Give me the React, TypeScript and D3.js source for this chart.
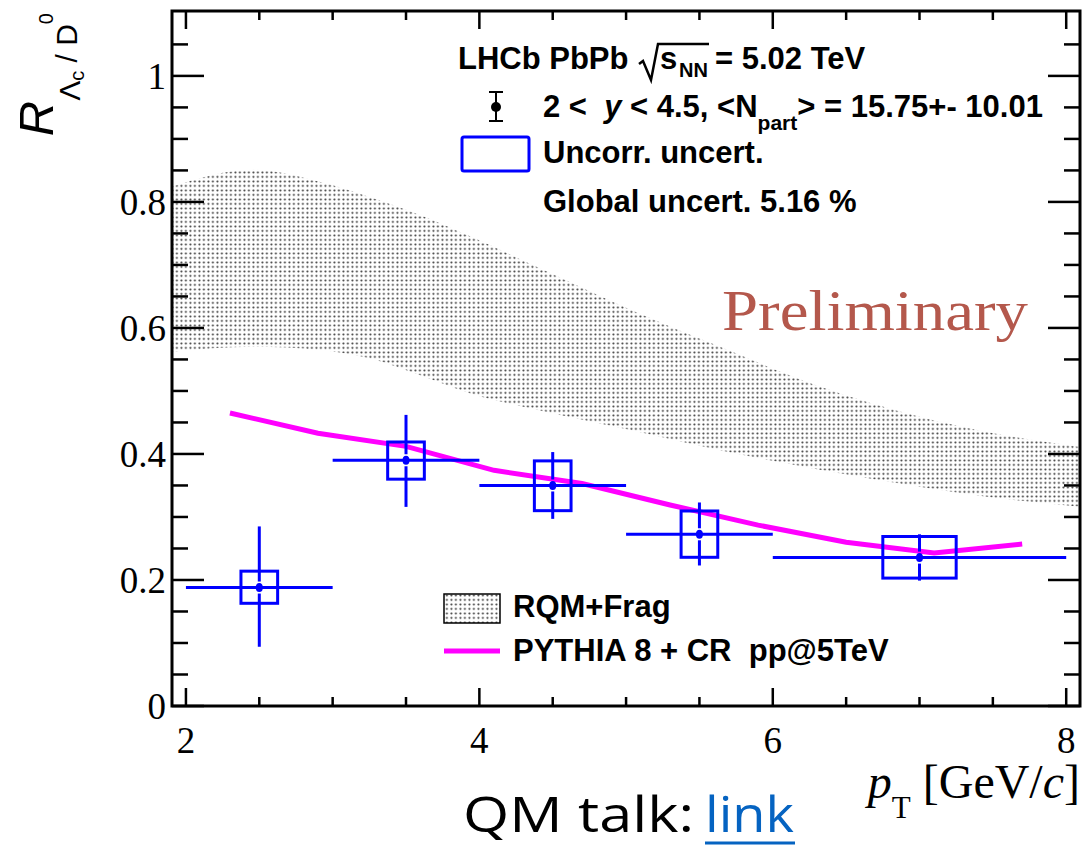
import React from 'react';
import * as d3 from 'd3';

// LHCb PbPb Lambda_c / D0 ratio vs pT
const ptCenter = [2.5, 3.5, 4.5, 5.5, 7.0];
const ptLow = [2, 3, 4, 5, 6];
const ptHigh = [3, 4, 5, 6, 8];
const ratio = [0.188, 0.39, 0.35, 0.2725, 0.2355];
const statLow = [0.094, 0.316, 0.297, 0.223, 0.199];
const statHigh = [0.285, 0.462, 0.403, 0.323, 0.2725];
const systLow = [0.163, 0.36, 0.31, 0.236, 0.203];
const systHigh = [0.214, 0.419, 0.389, 0.3095, 0.269];

// RQM+Frag band
const bandPt = [1.9, 2.46, 2.91, 3.25, 3.62, 3.94, 4.39, 5.03, 5.64, 6.32, 7.0, 7.46, 8.1];
const bandHigh = [0.824, 0.851, 0.832, 0.808, 0.777, 0.745, 0.697, 0.629, 0.57, 0.507, 0.459, 0.435, 0.411];
const bandLow = [0.562, 0.57, 0.565, 0.552, 0.523, 0.496, 0.47, 0.438, 0.406, 0.375, 0.348, 0.332, 0.316];

// PYTHIA 8 + CR
const pythiaPt = [2.3, 2.9, 3.5, 4.1, 4.7, 5.3, 5.9, 6.5, 7.1, 7.7];
const pythiaVal = [0.465, 0.433, 0.412, 0.374, 0.353, 0.319, 0.287, 0.26, 0.243, 0.257];

const xMajor = [2, 4, 6, 8];
const yMajor = [0, 0.2, 0.4, 0.6, 0.8, 1];
const yLabels = ['0', '0.2', '0.4', '0.6', '0.8', '1'];

const left = 172, right = 1080, top = 11, bottom = 706;
const BLUE = '#0000ff';
const MAGENTA = '#ff00ff';
const sans = '"Liberation Sans", Arial, sans-serif';
const serif = '"Liberation Serif", "Times New Roman", serif';

export default function App() {
  const x = d3.scaleLinear().domain([1.905, 8.094]).range([left, right]);
  const y = d3.scaleLinear().domain([0, 1.103]).range([bottom, top]);

  const xMinor = d3.range(2, 8.01, 0.5).filter(v => !xMajor.includes(v));
  const yMinor = d3.range(0.05, 1.1, 0.05).filter(v => Math.abs(v * 5 - Math.round(v * 5)) > 1e-6);

  const band = d3.area<number>()
    .x(d => x(bandPt[d]))
    .y0(d => y(bandLow[d]))
    .y1(d => y(bandHigh[d]))
    .curve(d3.curveMonotoneX)(d3.range(bandPt.length));

  const pythia = d3.line<number>()
    .x(d => x(pythiaPt[d]))
    .y(d => y(pythiaVal[d]))(d3.range(pythiaPt.length));

  return (
    <svg width={1086} height={849} style={{ position: 'absolute', left: 0, top: 0, background: '#fff' }}>
      <defs>
        <pattern id="dots" width="4.5" height="4.5" patternUnits="userSpaceOnUse">
          <circle cx="1.4" cy="1.4" r="1.05" fill="#383838" />
        </pattern>
        <clipPath id="frame">
          <rect x={left} y={top} width={right - left} height={bottom - top} />
        </clipPath>
      </defs>

      {/* theory band + pythia */}
      <g clipPath="url(#frame)">
        <path d={band || ''} fill="url(#dots)" />
        <path d={pythia || ''} fill="none" stroke={MAGENTA} strokeWidth={5} />
      </g>

      {/* data points */}
      {ptCenter.map((c, i) => {
        const hw = 0.125 * (ptHigh[i] - ptLow[i]);
        const cy = y(ratio[i]);
        return (
          <g key={i}>
            <rect x={x(c - hw)} y={y(systHigh[i])} width={x(c + hw) - x(c - hw)}
              height={y(systLow[i]) - y(systHigh[i])} fill="none" stroke={BLUE} strokeWidth={3} />
            <line x1={x(ptLow[i])} x2={x(ptHigh[i])} y1={cy} y2={cy} stroke={BLUE} strokeWidth={3} />
            <line x1={x(c)} x2={x(c)} y1={y(statHigh[i])} y2={cy - 6} stroke={BLUE} strokeWidth={3} />
            <line x1={x(c)} x2={x(c)} y1={cy + 6} y2={y(statLow[i])} stroke={BLUE} strokeWidth={3} />
            <ellipse cx={x(c)} cy={cy} rx={3.5} ry={4.5} fill={BLUE} />
          </g>
        );
      })}

      {/* frame and ticks */}
      <rect x={left} y={top} width={right - left} height={bottom - top} fill="none" stroke="#000" strokeWidth={3} />
      <g stroke="#000" strokeWidth={2.5}>
        {xMajor.map(v => (
          <g key={'xM' + v}>
            <line x1={x(v)} x2={x(v)} y1={bottom} y2={bottom - 18} />
            <line x1={x(v)} x2={x(v)} y1={top} y2={top + 18} />
          </g>
        ))}
        {xMinor.map(v => (
          <g key={'xm' + v}>
            <line x1={x(v)} x2={x(v)} y1={bottom} y2={bottom - 9} />
            <line x1={x(v)} x2={x(v)} y1={top} y2={top + 9} />
          </g>
        ))}
        {yMajor.map(v => (
          <g key={'yM' + v}>
            <line x1={left} x2={left + 32} y1={y(v)} y2={y(v)} />
            <line x1={right} x2={right - 32} y1={y(v)} y2={y(v)} />
          </g>
        ))}
        {yMinor.map(v => (
          <g key={'ym' + v}>
            <line x1={left} x2={left + 16} y1={y(v)} y2={y(v)} />
            <line x1={right} x2={right - 16} y1={y(v)} y2={y(v)} />
          </g>
        ))}
      </g>

      {/* tick labels */}
      <g fontFamily={serif} fontSize={37} fill="#000">
        {yMajor.map((v, i) => (
          <text key={'yl' + v} x={166} y={y(v) + 13} textAnchor="end">{yLabels[i]}</text>
        ))}
        {xMajor.map(v => (
          <text key={'xl' + v} x={x(v)} y={753} textAnchor="middle">{v}</text>
        ))}
      </g>

      {/* axis titles */}
      <text x={1080} y={798} textAnchor="end" fontFamily={serif} fontSize={48}>
        <tspan fontStyle="italic">p</tspan>
        <tspan fontSize={31} dy={20}>T</tspan>
        <tspan dy={-20}> [GeV/</tspan>
        <tspan fontStyle="italic">c</tspan>
        <tspan>]</tspan>
      </text>
      <text transform="translate(53,13) rotate(-90)" textAnchor="end" fontFamily={sans}>
        <tspan fontSize={49} fontStyle="italic">R</tspan>
        <tspan fontSize={30} dy={27}>Λ</tspan>
        <tspan fontSize={20} dy={4}>c</tspan>
        <tspan fontSize={30} dy={-7} style={{ whiteSpace: 'pre' }}> / D</tspan>
        <tspan fontSize={20} dy={-24}>0</tspan>
      </text>

      {/* top legend */}
      <g fontFamily={sans} fontWeight="bold" fontSize={31} fill="#000">
        <text x={458} y={69}>LHCb PbPb</text>
        <path d="M639,64 L643,61 L651,80 L658,44 L709,44" fill="none" stroke="#000" strokeWidth={2.5} />
        <text x={660} y={69}>s</text>
        <text x={679} y={77} fontSize={20}>NN</text>
        <text x={715} y={69}>= 5.02 TeV</text>

        <line x1={496} x2={496} y1={92} y2={121} stroke="#000" strokeWidth={2} />
        <line x1={489} x2={503} y1={92} y2={92} stroke="#000" strokeWidth={2} />
        <line x1={489} x2={503} y1={121} y2={121} stroke="#000" strokeWidth={2} />
        <circle cx={496} cy={107} r={5} fill="#000" />
        <text x={543} y={117} style={{ whiteSpace: 'pre' }}>
          <tspan>2 &lt;  </tspan>
          <tspan fontStyle="italic">y</tspan>
          <tspan> &lt; 4.5, &lt;N</tspan>
          <tspan fontSize={21} dy={13}>part</tspan>
          <tspan dy={-13}>&gt; = 15.75+- 10.01</tspan>
        </text>

        <rect x={462} y={137} width={67} height={34} rx={2} fill="none" stroke={BLUE} strokeWidth={3} />
        <text x={543} y={163}>Uncorr. uncert.</text>
        <text x={543} y={212}>Global uncert. 5.16 %</text>
      </g>

      {/* bottom legend */}
      <g fontFamily={sans} fontWeight="bold" fontSize={31} fill="#000">
        <rect x={444} y={594} width={56} height={29} fill="url(#dots)" stroke="#000" strokeWidth={1.5} />
        <text x={513} y={617}>RQM+Frag</text>
        <line x1={444} x2={500} y1={651} y2={651} stroke={MAGENTA} strokeWidth={5} />
        <text x={513} y={661} style={{ whiteSpace: 'pre' }}>PYTHIA 8 + CR  pp@5TeV</text>
      </g>

      <text x={722} y={330} fontFamily={serif} fontSize={58} fill="#b4584c" textLength={306} lengthAdjust="spacingAndGlyphs">Preliminary</text>

      {/* footer */}
      <text x={463} y={832} fontFamily='"Open Sans", Lato, sans-serif' fontSize={49} fill="#000" textLength={231} lengthAdjust="spacingAndGlyphs">QM talk:</text>
      <text x={705} y={832} fontFamily='"Open Sans", Lato, sans-serif' fontSize={49} fill="#0563c1" textLength={89} lengthAdjust="spacingAndGlyphs">link</text>
      <line x1={705} x2={795} y1={843} y2={843} stroke="#0563c1" strokeWidth={3} />
    </svg>
  );
}
